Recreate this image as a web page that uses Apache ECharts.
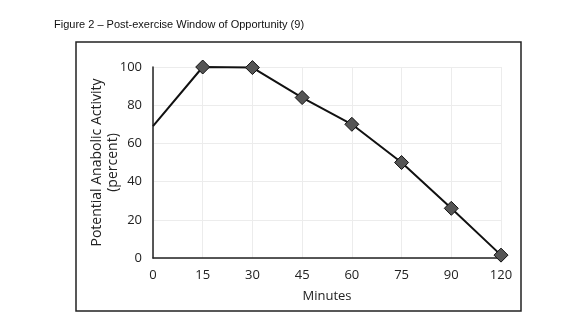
<!DOCTYPE html>
<html><head><meta charset="utf-8">
<script src="https://cdn.jsdelivr.net/npm/echarts@6/dist/echarts.min.js"></script>
<style>html,body{margin:0;padding:0;background:#fff}#c{width:569px;height:322px}</style>
</head><body><div id="c"></div>
<script>
const titleText = 'Figure 2 – Post-exercise Window of Opportunity (9)';
const categories = ['0','15','30','45','60','75','90','120'];
const activity = [69, 100, 99.7, 84, 70, 50, 26, 1.5];
const yTicks = [0, 20, 40, 60, 80, 100];

const chart = echarts.init(document.getElementById('c'));
chart.setOption({
  animation: false,
  title: {
    text: titleText, left: 49, top: 14,
    textStyle: {fontFamily: 'Liberation Sans, Arial', fontSize: 11, fontWeight: 'normal', color: '#111'}
  },
  graphic: [{
    type: 'rect', shape: {x: 76, y: 42, width: 445, height: 269},
    style: {fill: 'none', stroke: '#222', lineWidth: 1.5}, z: -1
  }],
  grid: {left: 153, right: 68, top: 67, bottom: 64},
  xAxis: {
    type: 'category', data: categories, boundaryGap: false,
    name: 'Minutes', nameLocation: 'middle', nameGap: 32, nameMoveOverlap: false,
    nameTextStyle: {fontFamily: 'Open Sans', fontSize: 13, color: '#222'},
    axisLine: {lineStyle: {color: '#222', width: 1.5}},
    axisTick: {show: false},
    axisLabel: {fontFamily: 'Open Sans', fontSize: 13, color: '#222', margin: 11},
    splitLine: {show: true, lineStyle: {color: '#ececec', width: 1}}
  },
  yAxis: {
    type: 'value', min: yTicks[0], max: yTicks[yTicks.length - 1], interval: 20,
    name: 'Potential Anabolic Activity\n(percent)', nameLocation: 'middle', nameGap: 32, nameMoveOverlap: false,
    nameTextStyle: {fontFamily: 'Open Sans', fontSize: 14, color: '#222', lineHeight: 16},
    axisLine: {show: true, lineStyle: {color: '#222', width: 1.5}},
    axisTick: {show: false},
    axisLabel: {fontFamily: 'Open Sans', fontSize: 13, color: '#222', margin: 11},
    splitLine: {show: true, lineStyle: {color: '#ececec', width: 1}}
  },
  series: [{
    type: 'line',
    data: activity.map((v, i) => i === 0 ? {value: v, symbol: 'none'} : v),
    symbol: 'diamond', symbolSize: 14,
    lineStyle: {color: '#111', width: 2},
    itemStyle: {color: '#555', borderColor: '#111', borderWidth: 1}
  }]
});
</script></body></html>
